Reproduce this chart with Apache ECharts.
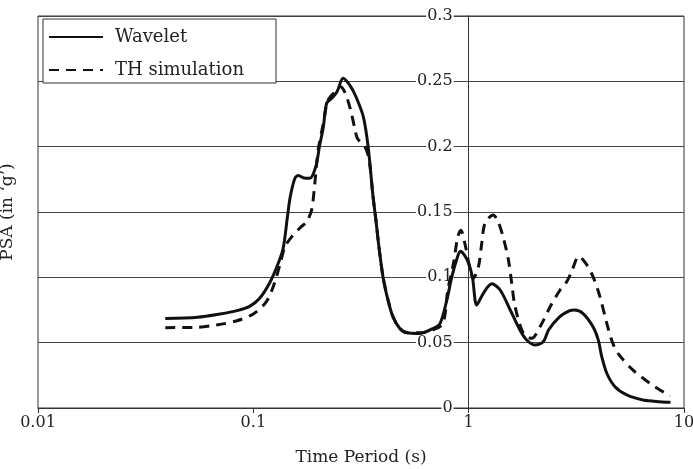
<!DOCTYPE html>
<html><head><meta charset="utf-8">
<script src="https://cdn.jsdelivr.net/npm/echarts@6/dist/echarts.min.js"></script>
<style>html,body{margin:0;padding:0;background:#fff}#c{width:693px;height:469px}</style>
</head><body><div id="c"></div>
<script>
const xTickLabels = ['0.01', '0.1', '1', '10'];
const seriesNames = ['Wavelet', 'TH simulation'];

const waveletPeriod = [0.039, 0.055, 0.07, 0.084, 0.0965, 0.107, 0.119, 0.13, 0.1376, 0.144, 0.1484, 0.156, 0.162, 0.172, 0.183, 0.195, 0.2027, 0.2115, 0.219, 0.2316, 0.2447, 0.2613, 0.2833, 0.3, 0.3241, 0.3413, 0.359, 0.372, 0.382, 0.4, 0.4217, 0.4446, 0.478, 0.514, 0.594, 0.686, 0.737, 0.792, 0.8355, 0.8835, 0.915, 0.9836, 1.04, 1.09, 1.17, 1.28, 1.4, 1.56, 1.73, 1.86, 2.03, 2.22, 2.35, 2.65, 2.95, 3.1, 3.39, 3.78, 4.0, 4.15, 4.38, 4.78, 5.42, 6.46, 7.73, 8.65];
const waveletPSA = [0.0684, 0.0694, 0.0719, 0.0745, 0.078, 0.084, 0.0957, 0.11, 0.1222, 0.1464, 0.1617, 0.1758, 0.178, 0.176, 0.1758, 0.1847, 0.2, 0.2153, 0.2332, 0.237, 0.242, 0.2523, 0.246, 0.238, 0.223, 0.2, 0.163, 0.142, 0.125, 0.1005, 0.0827, 0.0699, 0.061, 0.0576, 0.0571, 0.061, 0.0648, 0.0827, 0.1005, 0.1146, 0.12, 0.1133, 0.1005, 0.0788, 0.0878, 0.095, 0.0903, 0.075, 0.0597, 0.052, 0.0482, 0.0507, 0.0597, 0.0699, 0.0745, 0.075, 0.0725, 0.0622, 0.052, 0.0393, 0.0266, 0.0163, 0.01, 0.0061, 0.0048, 0.0044];

const thPeriod = [0.039, 0.055, 0.0675, 0.084, 0.1, 0.115, 0.125, 0.133, 0.1402, 0.1506, 0.165, 0.1768, 0.1865, 0.193, 0.2, 0.2115, 0.2226, 0.2447, 0.2533, 0.267, 0.283, 0.297, 0.305, 0.33, 0.345, 0.359, 0.372, 0.382, 0.4, 0.422, 0.445, 0.478, 0.514, 0.594, 0.686, 0.76, 0.8, 0.85, 0.89, 0.92, 0.96, 1.01, 1.05, 1.11, 1.15, 1.19, 1.3, 1.37, 1.45, 1.53, 1.585, 1.643, 1.795, 1.963, 2.146, 2.39, 2.658, 2.855, 3.0, 3.25, 3.5, 3.78, 4.07, 4.38, 4.67, 5.0, 5.8, 6.94, 7.73, 8.65];
const thPSA = [0.0615, 0.0618, 0.0635, 0.0668, 0.072, 0.0814, 0.095, 0.11, 0.1234, 0.131, 0.138, 0.1426, 0.1515, 0.172, 0.1974, 0.218, 0.2357, 0.2434, 0.246, 0.241, 0.228, 0.2127, 0.206, 0.2, 0.19, 0.163, 0.142, 0.125, 0.1005, 0.083, 0.07, 0.061, 0.0578, 0.0575, 0.06, 0.0648, 0.0903, 0.1107, 0.131, 0.136, 0.126, 0.108, 0.0992, 0.108, 0.126, 0.1413, 0.1477, 0.1426, 0.13, 0.1133, 0.0954, 0.0775, 0.0571, 0.0533, 0.0622, 0.0775, 0.0903, 0.0967, 0.104, 0.116, 0.1107, 0.1005, 0.0852, 0.0648, 0.0495, 0.0406, 0.029, 0.0189, 0.0138, 0.0095];

const FONT = 'DejaVu Serif';
const INK = '#222';
const chart = echarts.init(document.getElementById('c'), null, {renderer: 'canvas'});
chart.setOption({
  animation: false,
  backgroundColor: '#fff',
  grid: {left: 38, right: 9, top: 16, bottom: 61, show: true, borderColor: '#333', borderWidth: 1, containLabel: false, outerBoundsMode: 'none'},
  legend: {
    orient: 'vertical', left: 43, top: 19, padding: [9, 32, 4, 5],
    itemWidth: 54, itemHeight: 18, itemGap: 15,
    borderColor: '#333', borderWidth: 1, backgroundColor: '#fff',
    itemStyle: {opacity: 0},
    textStyle: {fontFamily: FONT, fontSize: 18, color: INK, padding: [0, 0, 0, 7]},
    data: seriesNames
  },
  xAxis: {
    type: 'log', logBase: 10, min: 0.01, max: 10,
    axisLine: {show: true, lineStyle: {color: '#333', width: 1}},
    axisTick: {show: true, length: 5, lineStyle: {color: '#333'}},
    minorTick: {show: false}, splitLine: {show: false},
    axisLabel: {margin: 7, fontFamily: FONT, fontSize: 16, color: INK,
      formatter: v => xTickLabels[Math.round(Math.log10(v)) + 2]},
    name: 'Time Period (s)', nameLocation: 'middle', nameGap: 41,
    nameTextStyle: {fontFamily: FONT, fontSize: 17, color: INK}
  },
  yAxis: [
    {type: 'value', min: 0, max: 0.3, interval: 0.05, position: 'right', z: 0,
      axisLine: {show: false}, axisTick: {show: false}, axisLabel: {show: false},
      splitLine: {show: true, lineStyle: {color: '#444', width: 1}}},
    {type: 'value', min: 0, max: 0.3, interval: 0.05, position: 'left', offset: -430.6, z: 1,
      axisLine: {show: true, lineStyle: {color: '#333', width: 1}}, axisTick: {show: false},
      splitLine: {show: false},
      axisLabel: {margin: 15, backgroundColor: '#fff', padding: [0, 1], fontFamily: FONT, fontSize: 16, color: INK},
      name: 'PSA (in \u2018g\u2019)', nameLocation: 'middle', nameGap: 453, nameRotate: 90,
      nameTextStyle: {fontFamily: FONT, fontSize: 17, color: INK}}
  ],
  series: [
    {type: 'line', name: seriesNames[0], yAxisIndex: 0, symbol: 'none', smooth: 0.3, z: 3,
      data: waveletPeriod.map((p, i) => [p, waveletPSA[i]]),
      lineStyle: {color: '#111', width: 3}, itemStyle: {color: '#111'}},
    {type: 'line', name: seriesNames[1], yAxisIndex: 0, symbol: 'none', smooth: 0.3, z: 3,
      data: thPeriod.map((p, i) => [p, thPSA[i]]),
      lineStyle: {color: '#111', width: 3, type: [10, 7]}, itemStyle: {color: '#111'}}
  ]
});
</script></body></html>
